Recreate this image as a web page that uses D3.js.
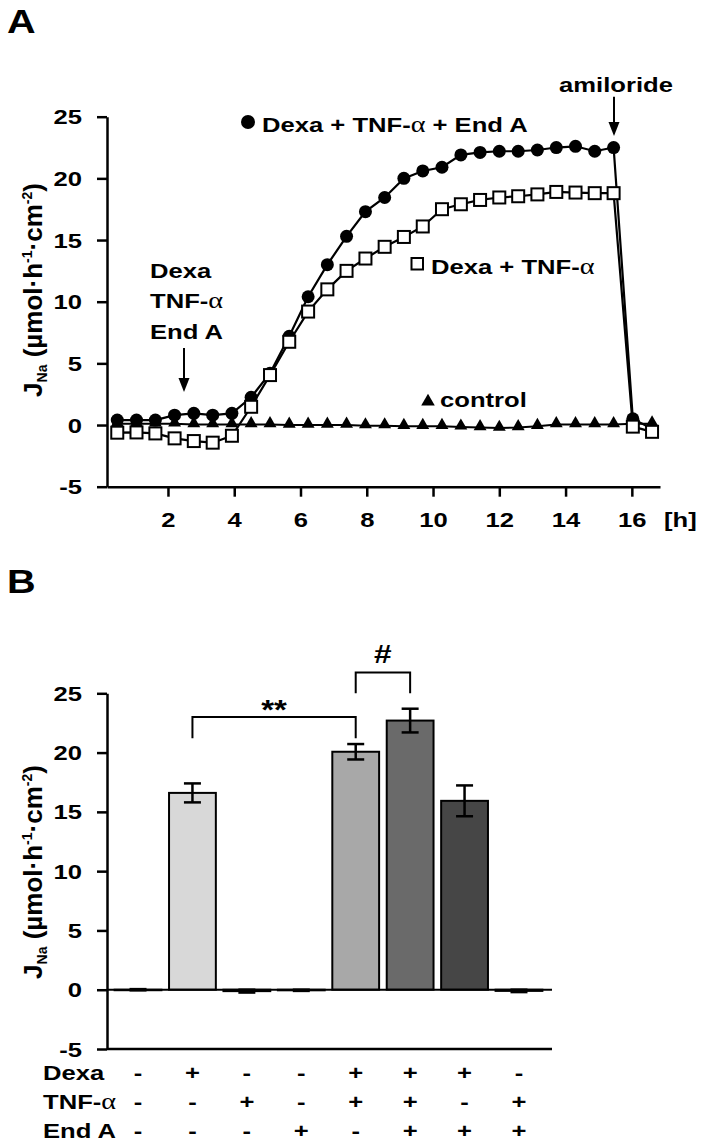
<!DOCTYPE html>
<html><head><meta charset="utf-8">
<script src="https://cdn.jsdelivr.net/npm/d3@7"></script>
<style>
body{margin:0;background:#fff}
svg{display:block}
text{font-family:"Liberation Sans",Arial,sans-serif;font-weight:bold;fill:#000}
</style></head><body>
<svg id="chart" width="710" height="1145"></svg>
<script>
// ---------- Panel A data ----------
const timeH = [0.47,1.05,1.62,2.2,2.78,3.35,3.93,4.51,5.08,5.66,6.23,6.81,7.39,7.96,8.54,9.12,9.69,10.27,10.84,11.42,12.0,12.57,13.15,13.72,14.3,14.88,15.45,16.03,16.61];
const dexaTnfEndA = [0.4,0.4,0.4,0.8,0.95,0.8,0.95,2.25,4.2,7.2,10.4,13.0,15.3,17.3,18.45,20.0,20.6,20.9,21.9,22.1,22.2,22.2,22.3,22.5,22.6,22.2,22.5,0.5,-0.3];
const dexaTnf = [-0.62,-0.6,-0.68,-1.08,-1.3,-1.43,-0.87,1.48,4.05,6.75,9.2,11.0,12.5,13.5,14.45,15.25,16.1,17.5,17.9,18.25,18.45,18.55,18.7,18.9,18.85,18.8,18.8,-0.13,-0.55];
const control = [0.1,0.1,0.1,0.1,0.05,0.05,0.05,0.05,0.05,0.0,0.0,0.0,0.0,-0.05,-0.05,-0.1,-0.1,-0.1,-0.15,-0.2,-0.25,-0.2,-0.1,0.05,0.05,0.05,0.05,0.1,0.1];
const xTicksA = [2,4,6,8,10,12,14,16];
const yTicks = [-5,0,5,10,15,20,25];

// ---------- Panel B data ----------
const groups = ["g1","g2","g3","g4","g5","g6","g7","g8"];
const barMeans = [0.0,16.6,-0.12,-0.05,20.07,22.7,15.93,-0.1];
const barErrors = [0.05,0.8,0.12,0.05,0.65,1.0,1.3,0.1];
const barColors = ["#ffffff","#d8d8d8","#bdbdbd","#bdbdbd","#a8a8a8","#6a6a6a","#464646","#bdbdbd"];
const rowNames = ["Dexa","TNF-α","End A"];
const dexaRow = ["-","+","-","-","+","+","+","-"];
const tnfRow  = ["-","-","+","-","+","+","-","+"];
const endARow = ["-","-","-","+","-","+","+","+"];

const SX = 1.22;   // horizontal stretch of the original lettering
const FS = 21;
const svg = d3.select("#chart");

function addText(g, x, y, str, anchor="start", size=FS){
  const t = g.append("text")
    .attr("transform", `translate(${x},${y}) scale(${SX},1)`)
    .attr("text-anchor", anchor)
    .attr("font-size", size);
  str.split(/(α)/).forEach(s=>{
    if(!s) return;
    const ts = t.append("tspan").text(s);
    if(s==="α") ts.attr("font-family","'Liberation Serif',serif").attr("font-weight","normal").attr("font-size", size*1.1);
  });
  return t;
}
function yLabel(g, x, y){
  const t = g.append("text")
    .attr("transform", `translate(${x},${y}) rotate(-90)`)
    .attr("text-anchor","middle")
    .attr("font-size", 26);
  t.append("tspan").text("J");
  t.append("tspan").attr("font-size",14).attr("dy",5).text("Na");
  t.append("tspan").attr("dy",-5).text(" (µmol·h");
  t.append("tspan").attr("font-size",14).attr("dy",-10).text("-1");
  t.append("tspan").attr("dy",10).text("·cm");
  t.append("tspan").attr("font-size",14).attr("dy",-10).text("-2");
  t.append("tspan").attr("dy",10).text(")");
}
function styleAxis(ax, side){
  ax.select(".domain").attr("stroke","#000").attr("stroke-width",2.5);
  ax.selectAll(".tick line").attr("stroke","#000").attr("stroke-width",2.5);
  ax.selectAll(".tick text").each(function(){
    const el = d3.select(this);
    if(side==="left"){
      el.attr("x",null).attr("dy",null).attr("text-anchor","end")
        .attr("transform",`translate(-25,7) scale(${SX},1)`);
    } else {
      el.attr("y",null).attr("dy",null).attr("text-anchor","middle")
        .attr("transform",`translate(0,40) scale(${SX},1)`);
    }
    el.attr("font-size",FS).attr("font-family",null).attr("fill","#000");
  });
  ax.attr("font-family",null).attr("font-size",null);
}
const fmt = d => String(d);

// ================= Panel A =================
const gA = svg.append("g");
const xA = d3.scaleLinear().domain([0.16,16.85]).range([107,660]);
const yA = d3.scaleLinear().domain([-5,25]).range([486.7,116.7]);

const axYA = gA.append("g").attr("transform","translate(107,0)")
  .call(d3.axisLeft(yA).tickValues(yTicks).tickSize(10).tickSizeOuter(0).tickFormat(fmt));
styleAxis(axYA,"left");
const axXA = gA.append("g").attr("transform",`translate(0,${yA(-5)})`)
  .call(d3.axisBottom(xA).tickValues(xTicksA).tickSize(10).tickSizeOuter(0).tickFormat(fmt));
styleAxis(axXA,"bottom");
addText(gA, 664, yA(-5)+40, "[h]");

const lineA = d3.line().x((d,i)=>xA(timeH[i])).y(d=>yA(d));
// control
gA.append("path").attr("d",lineA(control)).attr("fill","none").attr("stroke","#000").attr("stroke-width",2);
gA.selectAll(".tri").data(control).enter().append("path")
  .attr("transform",(d,i)=>`translate(${xA(timeH[i])},${yA(d)-1})`)
  .attr("d", d3.symbol().type(d3.symbolTriangle).size(72)).attr("fill","#000");
// Dexa + TNF + End A
gA.append("path").attr("d",lineA(dexaTnfEndA)).attr("fill","none").attr("stroke","#000").attr("stroke-width",2.2);
gA.selectAll(".circ").data(dexaTnfEndA).enter().append("circle")
  .attr("cx",(d,i)=>xA(timeH[i])).attr("cy",d=>yA(d)).attr("r",6.5).attr("fill","#000");
// Dexa + TNF
gA.append("path").attr("d",lineA(dexaTnf)).attr("fill","none").attr("stroke","#000").attr("stroke-width",2.2);
gA.selectAll(".sq").data(dexaTnf).enter().append("rect")
  .attr("x",(d,i)=>xA(timeH[i])-6).attr("y",d=>yA(d)-6).attr("width",12).attr("height",12)
  .attr("fill","#fff").attr("stroke","#000").attr("stroke-width",2);

// legends / annotations
gA.append("circle").attr("cx",248).attr("cy",122).attr("r",7).attr("fill","#000");
addText(gA, 262, 132, "Dexa + TNF-α + End A");
gA.append("rect").attr("x",411.5).attr("y",258).attr("width",11.5).attr("height",11.5).attr("fill","#fff").attr("stroke","#000").attr("stroke-width",2);
addText(gA, 431, 273.5, "Dexa + TNF-α");
gA.append("path").attr("transform","translate(428,401.5)").attr("d",d3.symbol().type(d3.symbolTriangle).size(80)).attr("fill","#000");
addText(gA, 440, 407, "control");
addText(gA, 616, 92, "amiloride", "middle");
addText(gA, 150, 278, "Dexa");
addText(gA, 150, 308, "TNF-α");
addText(gA, 150, 339, "End A");

function arrow(g, x, y1, y2){
  g.append("line").attr("x1",x).attr("x2",x).attr("y1",y1).attr("y2",y2-12).attr("stroke","#000").attr("stroke-width",2);
  g.append("path").attr("d",`M${x-5.5},${y2-14}L${x+5.5},${y2-14}L${x},${y2}Z`).attr("fill","#000");
}
arrow(gA, 614, 96.7, 136);
arrow(gA, 184, 348, 392);
yLabel(gA, 42, 290);
addText(gA, 7, 33.3, "A", "start", 32.5);

// ================= Panel B =================
const gB = svg.append("g");
const xB = d3.scaleBand().domain(groups).range([107,550]).paddingInner(0.14).paddingOuter(0.14);
const yB = d3.scaleLinear().domain([-5,25]).range([1049,693.3]);

gB.selectAll(".bar").data(barMeans).enter().append("rect")
  .attr("x",(d,i)=>xB(groups[i])).attr("width",xB.bandwidth())
  .attr("y",d=>yB(Math.max(0,d))).attr("height",d=>Math.max(0.5,Math.abs(yB(d)-yB(0))))
  .attr("fill",(d,i)=>barColors[i]).attr("stroke","#000").attr("stroke-width",2);
gB.append("line").attr("x1",107).attr("x2",552).attr("y1",yB(0)).attr("y2",yB(0)).attr("stroke","#000").attr("stroke-width",2);
const eb = gB.selectAll(".eb").data(barMeans).enter().append("g")
  .attr("transform",(d,i)=>`translate(${xB(groups[i])+xB.bandwidth()/2},0)`);
eb.append("line").attr("y1",(d,i)=>yB(d+barErrors[i])).attr("y2",(d,i)=>yB(d-barErrors[i])).attr("stroke","#000").attr("stroke-width",2.5);
eb.append("line").attr("x1",-8.5).attr("x2",8.5).attr("y1",(d,i)=>yB(d+barErrors[i])).attr("y2",(d,i)=>yB(d+barErrors[i])).attr("stroke","#000").attr("stroke-width",2.5);
eb.append("line").attr("x1",-8.5).attr("x2",8.5).attr("y1",(d,i)=>yB(d-barErrors[i])).attr("y2",(d,i)=>yB(d-barErrors[i])).attr("stroke","#000").attr("stroke-width",2.5);

const axYB = gB.append("g").attr("transform","translate(107,0)")
  .call(d3.axisLeft(yB).tickValues(yTicks).tickSize(10).tickSizeOuter(0).tickFormat(fmt));
styleAxis(axYB,"left");
const axXB = gB.append("g").attr("transform",`translate(0,${yB(-5)})`)
  .call(d3.axisBottom(xB).tickSize(0).tickSizeOuter(0).tickFormat(""));
axXB.select(".domain").attr("stroke","#000").attr("stroke-width",2.5).attr("d","M107,0H552");

function bracket(i1, i2, yTop, yLeg1, yLeg2, lbl, lblY, size){
  const xa = xB(groups[i1])+xB.bandwidth()/2, xb = xB(groups[i2])+xB.bandwidth()/2;
  gB.append("path").attr("d",`M${xa},${yB(yLeg1)}V${yB(yTop)}H${xb}V${yB(yLeg2)}`)
    .attr("fill","none").attr("stroke","#000").attr("stroke-width",2);
  addText(gB, (xa+xb)/2, lblY, lbl, "middle", size);
}
bracket(1,4,23.0,21.2,21.2,"**",719,27);
bracket(4,5,26.75,25.0,25.0,"#",663,26);

const rows = [dexaRow,tnfRow,endARow];
const rowY = [1080,1109,1138];
rows.forEach((r,k)=>{
  addText(gB, 43, rowY[k], rowNames[k]);
  r.forEach((s,i)=>addText(gB, xB(groups[i])+xB.bandwidth()/2, rowY[k], s, "middle"));
});
yLabel(gB, 42, 872);
addText(gB, 7, 593.3, "B", "start", 32.5);
</script>
</body></html>
